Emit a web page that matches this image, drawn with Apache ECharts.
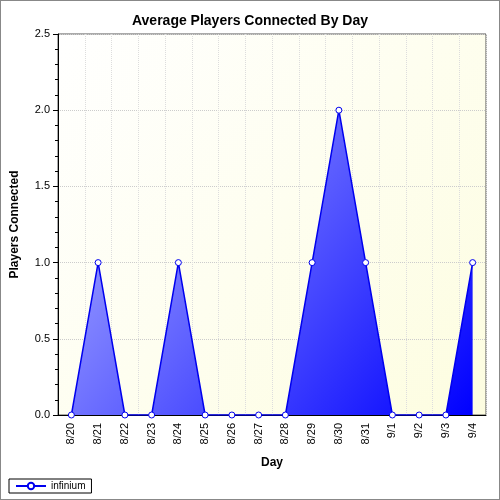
<!DOCTYPE html>
<html><head><meta charset="utf-8">
<script src="https://cdn.jsdelivr.net/npm/echarts@6/dist/echarts.min.js"></script>
<style>html,body{margin:0;padding:0;background:#fff}#c{width:498px;height:498px;border:1px solid #888}</style>
</head><body><div id="c"></div>
<script>
const categories=['8/20','8/21','8/22','8/23','8/24','8/25','8/26','8/27','8/28','8/29','8/30','8/31','9/1','9/2','9/3','9/4'];
const players=[0,1,0,0,1,0,0,0,0,1,2,1,0,0,0,1];
const yTicks=[0,0.5,1,1.5,2,2.5];
const chart=echarts.init(document.getElementById('c'));
chart.setOption({
  animation:false,
  textStyle:{fontFamily:'Liberation Sans, Arial'},
  title:{text:'Average Players Connected By Day',left:'center',top:8,textStyle:{fontSize:14,fontWeight:'bold',color:'#000'}},
  grid:{left:57,right:13,top:33,bottom:84,show:true,borderColor:'#555',borderWidth:1,
    backgroundColor:new echarts.graphic.LinearGradient(0,0,1,1,[{offset:0,color:'#ffffff'},{offset:1,color:'#fdfde0'}])},
  legend:{left:8,bottom:6,itemWidth:30,itemHeight:8,borderColor:'#000',borderWidth:1,padding:[2,6],
    textStyle:{fontSize:10,color:'#000'},data:['infinium']},
  xAxis:{type:'category',data:categories,boundaryGap:true,name:'Day',nameLocation:'middle',nameGap:42,
    nameTextStyle:{fontWeight:'bold',fontSize:12,color:'#000'},
    axisLabel:{rotate:90,fontSize:11,color:'#000',interval:0},axisTick:{alignWithLabel:true,interval:0},
    axisLine:{lineStyle:{color:'#000'}},splitLine:{show:true,interval:0,lineStyle:{type:'dotted',color:'#ddd'}}},
  yAxis:{type:'value',min:yTicks[0],max:yTicks[yTicks.length-1],interval:0.5,name:'Players Connected',nameLocation:'middle',nameGap:37,
    nameTextStyle:{fontWeight:'bold',fontSize:12,color:'#000'},
    axisLabel:{formatter:v=>v.toFixed(1),fontSize:11,color:'#000'},
    axisLine:{show:true,lineStyle:{color:'#000'}},axisTick:{show:true},
    minorTick:{show:true,splitNumber:5},
    splitLine:{lineStyle:{type:'dotted',color:'#ccc'}},minorSplitLine:{show:false}},
  series:[{name:'infinium',type:'line',data:players,symbol:'circle',symbolSize:6,
    lineStyle:{color:'#0000ee',width:1.5},itemStyle:{color:'#fff',borderColor:'#0000ee',borderWidth:1},
    areaStyle:{opacity:1,color:new echarts.graphic.LinearGradient(0,0,1,1,[{offset:0,color:'#b0b4ff'},{offset:1,color:'#0000ff'}])}}]
});
</script></body></html>
